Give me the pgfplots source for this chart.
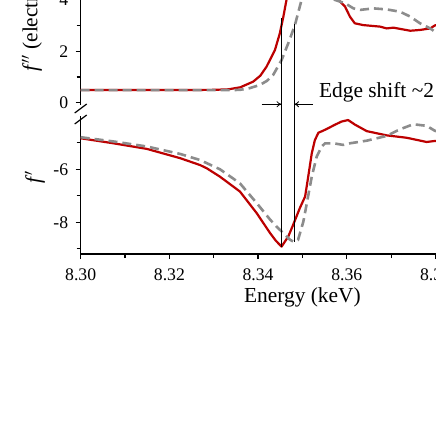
\documentclass[border=0pt]{standalone}
\usepackage{fontspec}
\setmainfont{Liberation Serif}
\usepackage{pgfplots}
\usepackage{pgfplotstable}
\usetikzlibrary{arrows.meta}
\pgfplotsset{compat=1.18}
\definecolor{myred}{RGB}{188,0,0}
\definecolor{mygray}{RGB}{140,140,140}

\pgfplotstableread{
x y
8.300 -4.83
8.3074 -5.02
8.3149 -5.23
8.3224 -5.58
8.3269 -5.84
8.3284 -5.96
8.3314 -6.28
8.3359 -6.84
8.3397 -7.66
8.3427 -8.41
8.3440 -8.70
8.3453 -8.92
8.3468 -8.54
8.3479 -8.10
8.3494 -7.47
8.3506 -7.03
8.3513 -6.28
8.3521 -5.40
8.3528 -4.90
8.3536 -4.62
8.3547 -4.54
8.3558 -4.45
8.3573 -4.32
8.3588 -4.20
8.3603 -4.14
8.3618 -4.31
8.3645 -4.56
8.3690 -4.72
8.3735 -4.81
8.3780 -4.97
8.3799 -4.93
8.3850 -4.90
8.3920 -4.85
8.4000 -4.85
}\fpred

\pgfplotstableread{
x y
8.300 -4.79
8.3074 -4.95
8.3149 -5.14
8.3224 -5.42
8.3269 -5.65
8.3314 -6.00
8.3359 -6.53
8.3397 -7.28
8.3427 -7.90
8.3442 -8.17
8.3461 -8.48
8.3472 -8.66
8.3479 -8.73
8.3490 -8.67
8.3502 -7.98
8.3509 -7.36
8.3521 -6.28
8.3532 -5.53
8.3543 -5.15
8.3551 -5.02
8.3570 -5.02
8.3592 -5.08
8.3607 -5.02
8.3645 -4.92
8.3690 -4.74
8.3720 -4.49
8.3750 -4.30
8.3780 -4.36
8.3799 -4.55
8.3850 -4.75
8.3920 -4.85
8.4000 -4.85
}\fpgray

\pgfplotstableread{
x y
8.300 0.49
8.320 0.49
8.330 0.50
8.3333 0.52
8.336 0.60
8.3389 0.82
8.3405 1.05
8.3419 1.40
8.3438 2.05
8.3449 2.70
8.3457 3.35
8.3464 4.00
8.3475 4.60
8.3495 5.00
8.3520 5.05
8.3550 4.70
8.3572 4.20
8.3585 3.93
8.3596 3.74
8.3607 3.35
8.3618 3.09
8.3637 3.02
8.3675 2.96
8.3690 2.89
8.3705 2.92
8.3743 2.80
8.3765 2.83
8.3788 2.89
8.3799 3.01
8.3830 3.05
8.3870 2.95
8.3920 2.90
8.4000 2.85
}\fppred

\pgfplotstableread{
x y
8.300 0.49
8.334 0.49
8.3359 0.50
8.3380 0.56
8.3404 0.69
8.3420 0.85
8.3434 1.08
8.3453 1.66
8.3468 2.31
8.3483 3.02
8.3494 3.74
8.3498 4.00
8.3510 4.40
8.3530 4.55
8.3555 4.35
8.3573 4.00
8.3596 3.87
8.3615 3.67
8.3630 3.61
8.3660 3.67
8.3690 3.63
8.3720 3.54
8.3743 3.35
8.3765 3.09
8.3788 2.89
8.3799 2.76
8.3850 2.70
8.3920 2.80
8.4000 2.85
}\fppgray

\pgfplotsset{
  myaxis/.style={
    scale only axis, width=443.5pt, xmin=8.30, xmax=8.40,
    font=\fontsize{17.7}{20}\selectfont,
    axis line style={line width=1.6pt,-},
    tick style={line width=1.2pt, black},
    tick align=outside,
    major tick length=5pt, minor tick length=4pt,
    yticklabel style={xshift=-4pt},
    xticklabel style={yshift=-6pt},
    clip=false,
  },
  redline/.style={color=myred, line width=2.2pt, line join=round, no marks},
  grayline/.style={color=mygray, line width=2.6pt, dash pattern=on 9pt off 5pt, line join=round, no marks},
}

\begin{document}
\begin{tikzpicture}
\begin{scope}
\clip (-80.7pt,-186pt) rectangle (355.3pt,254pt);
\begin{axis}[myaxis, at={(0pt,0pt)}, anchor=south west, height=137.7pt,
  ymin=-9.2, ymax=-4.0,
  axis x line*=bottom, axis y line*=left,
  xtick={8.30,8.32,8.34,8.36,8.38,8.40},
  xticklabels={8.30,8.32,8.34,8.36,8.38,8.40},
  minor xtick={8.31,8.33,8.35,8.37,8.39},
  ytick={-8,-6}, yticklabels={-8,-6},
  minor ytick={-9,-7,-5},
  xlabel={Energy (keV)},
  xlabel style={font=\fontsize{21.4}{24}\selectfont},
]
\addplot[redline] table {\fpred};
\addplot[grayline] table {\fpgray};
\coordinate (L2) at (axis cs:8.3453,-8.92);
\coordinate (R2) at (axis cs:8.3481,-8.73);
\end{axis}

\begin{axis}[myaxis, at={(0pt,149pt)}, anchor=south west, height=156.5pt,
  ymin=-0.09, ymax=6,
  axis x line=none, axis y line*=left,
  ytick={0,2,4,6}, yticklabels={0,2,4,6},
  minor ytick={1,3,5},
]
\addplot[redline] table {\fppred};
\addplot[grayline] table {\fppgray};
\coordinate (L1) at (axis cs:8.3453,3.28);
\coordinate (R1) at (axis cs:8.3481,3.06);
\draw[line width=0.8pt, -{To[length=5pt,width=6pt]}] (axis cs:8.3408,-0.06) -- (axis cs:8.3453,-0.06);
\draw[line width=0.8pt, -{To[length=5pt,width=6pt]}] (axis cs:8.3524,-0.06) -- (axis cs:8.3481,-0.06);
\node[anchor=west, inner sep=0pt, font=\fontsize{21.4}{24}\selectfont] at (axis cs:8.3537,0.42) {Edge shift \textasciitilde 2 eV};
\end{axis}

\draw[line width=0.8pt] (L1) -- (L2);
\draw[line width=0.8pt] (R1) -- (R2);

% axis break marks
\draw[line width=1.2pt] (-6pt,141pt) -- (6pt,150pt);
\draw[line width=1.2pt] (-6pt,130pt) -- (6pt,139pt);

% y labels
\node[rotate=90, anchor=west, inner sep=0pt, font=\fontsize{21.4}{24}\selectfont] at (-48.7pt,182pt) {\textit{f}$^{\prime\prime}$ (electrons)};
\node[rotate=90, anchor=center, inner sep=0pt, font=\fontsize{21.4}{24}\selectfont] at (-45.7pt,77pt) {\textit{f}$^{\prime}$};
\end{scope}

\pgfresetboundingbox
\useasboundingbox (-80.7pt,-186pt) rectangle (355.3pt,254pt);
\end{tikzpicture}
\end{document}
